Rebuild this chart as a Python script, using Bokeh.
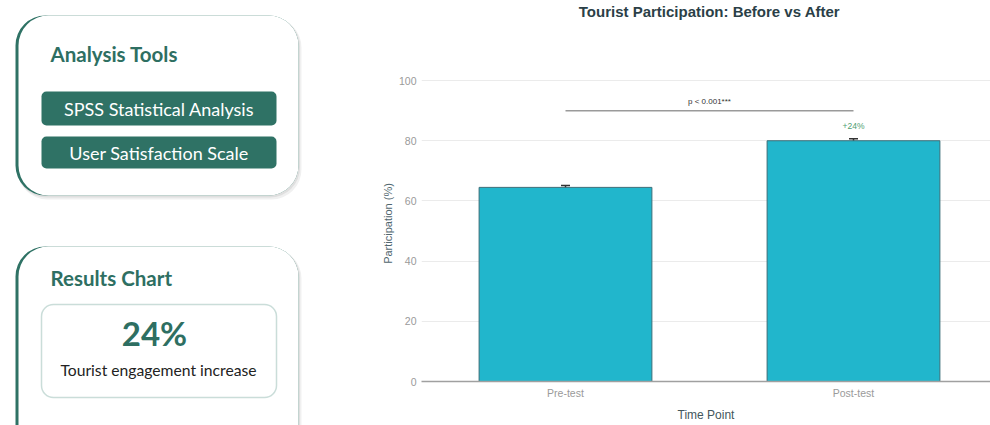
import numpy as np
from bokeh.plotting import figure
from bokeh.models import (Range1d, BoxAnnotation, FixedTicker, Whisker, TeeHead,
                          ColumnDataSource)
from bokeh.layouts import row, column
from bokeh.core.properties import value
from bokeh.embed import file_html
from bokeh.resources import INLINE

# ---------------- data ----------------
categories = ["Pre-test", "Post-test"]
participation = [64.5, 80.0]
errors = [0.6, 0.7]
y_ticks = [0, 20, 40, 60, 80, 100]
significance_label = "p < 0.001***"
significance_y = 90
increase_label = "+24%"
chart_title = "Tourist Participation: Before vs After"

tools_title = "Analysis Tools"
tools_items = ["SPSS Statistical Analysis", "User Satisfaction Scale"]
results_title = "Results Chart"
results_value = "24%"
results_caption = "Tourist engagement increase"

TEAL = "#2f7265"
PANEL_FONT = "Lato"
CHART_FONT = "Liberation Sans"

# ---------------- left panel (page-pixel coordinates, y negative downwards) ----------------
L = figure(width=305, height=425, x_range=Range1d(0, 305), y_range=Range1d(-425, 0),
           toolbar_location=None, output_backend="svg", min_border=0, frame_align=False)
L.axis.visible = False
L.grid.visible = False
L.outline_line_color = None

def card(x0, x1, y0, y1):
    # shadow
    L.add_layout(BoxAnnotation(left=x0 + 2, right=x1 + 3, top=-(y0 + 2), bottom=-(y1 + 4),
                               fill_color="black", fill_alpha=0.06, line_color=None,
                               border_radius=30, level="underlay"))
    L.add_layout(BoxAnnotation(left=x0 + 1, right=x1 + 1.5, top=-(y0 + 1), bottom=-(y1 + 2),
                               fill_color="black", fill_alpha=0.07, line_color=None,
                               border_radius=30, level="underlay"))
    # teal left border
    L.add_layout(BoxAnnotation(left=x0, right=x1, top=-y0, bottom=-y1,
                               fill_color=TEAL, fill_alpha=1, line_color=None,
                               border_radius=30, level="underlay"))
    # white body
    L.add_layout(BoxAnnotation(left=x0 + 3, right=x1, top=-y0, bottom=-y1,
                               fill_color="white", fill_alpha=1, line_color=None,
                               border_radius=30, level="underlay"))

card(15, 298, 15, 195)
card(15, 298, 246, 460)

# pills
pill_y = [(91, 125), (136, 168)]
for (y0, y1) in pill_y:
    L.add_layout(BoxAnnotation(left=41, right=276, top=-y0, bottom=-y1,
                               fill_color=TEAL, fill_alpha=1, line_color=None,
                               border_radius=5, level="underlay"))
L.text(x=[158.5] * len(tools_items), y=[-(a + b) / 2 for a, b in pill_y], text=tools_items,
       text_font=value(PANEL_FONT), text_font_size="18px", text_color="white",
       text_align="center", text_baseline="middle")

# results inner box
L.add_layout(BoxAnnotation(left=41, right=276, top=-304, bottom=-397,
                           fill_color="white", fill_alpha=1, line_color="#4f8d80",
                           line_width=1.5, border_radius=12, level="underlay"))

L.text(x=[50, 50], y=[-53, -277], text=[tools_title, results_title],
       text_font=value(PANEL_FONT), text_font_size="20.5px", text_font_style="bold",
       text_color="#2e6f62", text_align="left", text_baseline="middle")
L.text(x=[154], y=[-332], text=[results_value], text_font=value(PANEL_FONT),
       text_font_size="33px", text_font_style="bold", text_color="#2e6f62",
       text_align="center", text_baseline="middle")
L.text(x=[158], y=[-369], text=[results_caption], text_font=value(PANEL_FONT),
       text_font_size="15.7px", text_color="#222222",
       text_align="center", text_baseline="middle")

# ---------------- chart ----------------
xs = np.arange(len(categories)) + 0.5
x_range = Range1d(0, xs[0] - 0.5 + (990 - 421) / 288.0)
y_top = 105

# title strip (shares the chart's x range)
T = figure(width=685, height=22, x_range=x_range, y_range=Range1d(0, 1),
           toolbar_location=None, output_backend="svg", frame_align=False,
           min_border_left=116, min_border_right=0, min_border_top=0, min_border_bottom=0)
T.axis.visible = False
T.grid.visible = False
T.outline_line_color = None
T.text(x=[xs.mean()], y=[0.5], text=[chart_title],
       text_font=value(CHART_FONT), text_font_size="15px", text_font_style="bold",
       text_color="#2b3f47", text_align="center", text_baseline="middle")

p = figure(width=685, height=403, x_range=x_range, y_range=Range1d(0, y_top),
           toolbar_location=None, output_backend="svg", frame_align=False,
           min_border_left=116, min_border_right=0, min_border_top=43, min_border_bottom=44)
p.outline_line_color = None

src = ColumnDataSource(dict(x=xs, top=participation,
                            upper=np.array(participation) + np.array(errors),
                            lower=np.array(participation) - np.array(errors)))
p.vbar(x="x", top="top", bottom=0, width=0.6, source=src,
       fill_color="#21b6cc", line_color="#3c6e78", line_width=1)

p.add_layout(Whisker(source=src, base="x", upper="upper", lower="lower",
                     line_color="#333333", line_width=1.5,
                     upper_head=TeeHead(size=9, line_color="#333333", line_width=1.5),
                     lower_head=TeeHead(size=9, line_color="#333333", line_width=1.5)))

# significance bracket
p.line(x=[xs[0], xs[1]], y=[significance_y, significance_y], line_color="#9a9a9a", line_width=1.5)
p.text(x=[xs.mean()], y=[significance_y + 3.2], text=[significance_label],
       text_font=value(CHART_FONT), text_font_size="8px", text_color="#333333",
       text_align="center", text_baseline="middle")
p.text(x=[xs[1]], y=[participation[1] + 5], text=[increase_label],
       text_font=value(CHART_FONT), text_font_size="8.5px", text_color="#4f9e72",
       text_align="center", text_baseline="middle")

# axes
p.yaxis.ticker = FixedTicker(ticks=y_ticks)
p.yaxis.axis_line_color = None
p.yaxis.major_tick_line_color = None
p.yaxis.minor_tick_line_color = None
p.yaxis.major_tick_out = 0
p.yaxis.major_tick_in = 0
p.yaxis.minor_tick_out = 0
p.yaxis.major_label_standoff = 5
p.yaxis.major_label_text_font = CHART_FONT
p.yaxis.major_label_text_font_size = "10.5px"
p.yaxis.major_label_text_color = "#9a9a9a"
p.yaxis.axis_label = "Participation (%)"
p.yaxis.axis_label_text_font = CHART_FONT
p.yaxis.axis_label_text_font_size = "11px"
p.yaxis.axis_label_text_font_style = "normal"
p.yaxis.axis_label_text_color = "#50666e"
p.yaxis.axis_label_standoff = 2

p.xaxis.ticker = FixedTicker(ticks=list(xs))
p.xaxis.major_label_overrides = {float(x): c for x, c in zip(xs, categories)}
p.xaxis.axis_line_color = "#a0a0a0"
p.xaxis.axis_line_width = 1.5
p.xaxis.major_tick_line_color = None
p.xaxis.minor_tick_line_color = None
p.xaxis.major_tick_out = 0
p.xaxis.major_tick_in = 0
p.xaxis.minor_tick_out = 0
p.xaxis.major_label_standoff = 5
p.xaxis.major_label_text_font = CHART_FONT
p.xaxis.major_label_text_font_size = "10.5px"
p.xaxis.major_label_text_color = "#9a9a9a"
p.xaxis.axis_label = "Time Point"
p.xaxis.axis_label_text_font = CHART_FONT
p.xaxis.axis_label_text_font_size = "12px"
p.xaxis.axis_label_text_font_style = "normal"
p.xaxis.axis_label_text_color = "#44565c"
p.xaxis.axis_label_standoff = 6

p.xgrid.visible = False
p.ygrid.ticker = FixedTicker(ticks=y_ticks)
p.ygrid.grid_line_color = "#ebebeb"
p.ygrid.grid_line_width = 1

layout = row(L, column(T, p, spacing=0), spacing=0)
open("out.html", "w").write(file_html(layout, INLINE))
